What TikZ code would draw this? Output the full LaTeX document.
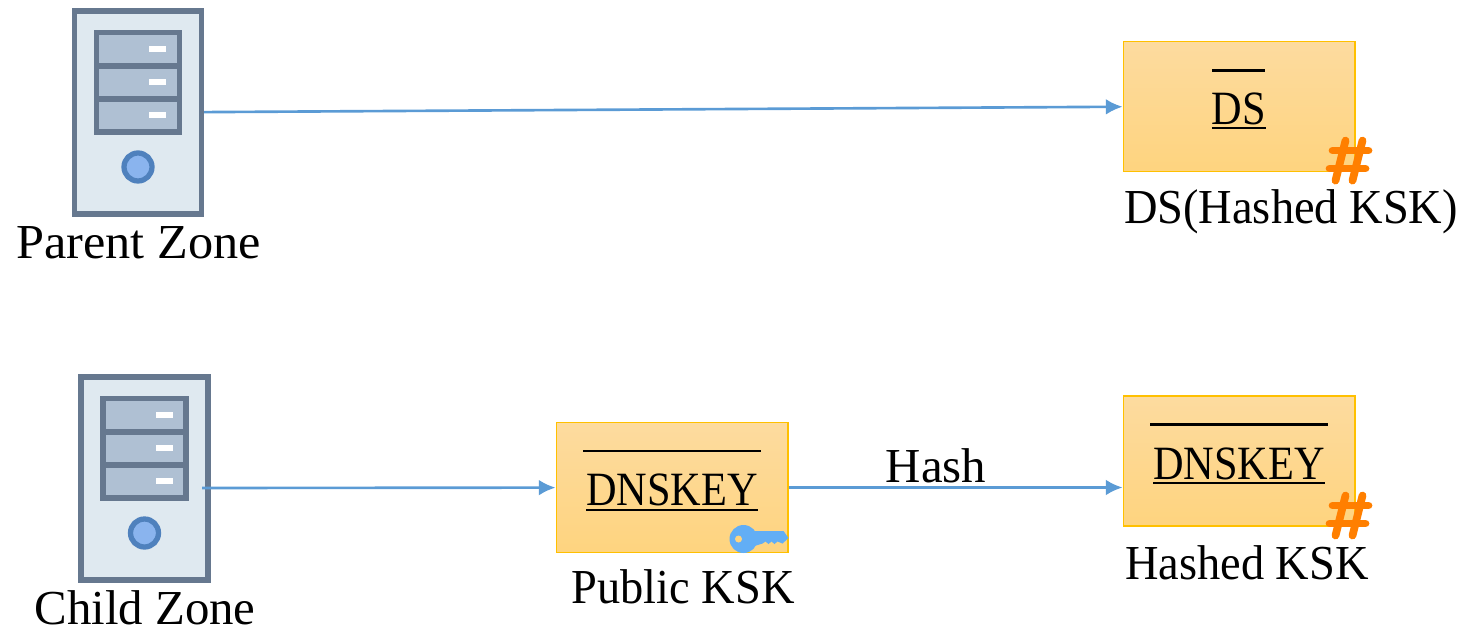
\documentclass[tikz,border=0pt]{standalone}
\usepackage{fontspec}
\setmainfont{Liberation Serif}
\newfontfamily\boxfont[FakeStretch=0.885]{Liberation Serif}
\newfontfamily\kskfont[FakeStretch=0.95]{Liberation Serif}
\newfontfamily\zonefont[FakeStretch=1.03]{Liberation Serif}
\usetikzlibrary{arrows.meta,calc,positioning}
\definecolor{srvline}{HTML}{66788F}
\definecolor{srvfill}{HTML}{DFE9F0}
\definecolor{srvrack}{HTML}{AFC0D3}
\definecolor{srvlamp}{HTML}{8AB4EE}
\definecolor{srvring}{HTML}{4F81BD}
\definecolor{flow}{HTML}{5B9BD5}
\definecolor{boxtop}{HTML}{FDDB9F}
\definecolor{boxbot}{HTML}{FED47F}
\definecolor{boxline}{HTML}{FFC000}
\definecolor{hashcol}{HTML}{FF7F00}
\definecolor{keycol}{HTML}{62AEF5}
\newcommand{\rrname}[1]{\setbox0\hbox{#1}\rlap{\rule[-2.7pt]{\wd0}{1.2pt}}\box0}
\tikzstyle{server} = [draw=srvline, fill=srvfill, line width=3pt, minimum width=2.54cm,
    minimum height=4.06cm, inner sep=0pt]
\tikzstyle{rrbox} = [draw=boxline, top color=boxtop, bottom color=boxbot, line width=0.6pt,
    minimum width=4.64cm, minimum height=2.6cm, inner sep=0pt, text height=.82cm, text depth=.08cm,
    font=\fontsize{27.2}{33}\boxfont]
\tikzstyle{caption} = [anchor=base, inner sep=0pt, font=\fontsize{27.8}{33}\selectfont]
\tikzstyle{kskcaption} = [caption, font=\fontsize{27.8}{33}\kskfont]
\tikzstyle{zonecaption} = [caption, font=\fontsize{27.8}{33}\zonefont]
\tikzstyle{link} = [-{Latex[length=9.5pt,width=9pt]}, flow, line width=1.5pt]
\tikzstyle{blank} = [black, line width=1.2pt]
\tikzset{
  rack/.pic={
    \draw [srvline, fill=srvrack, line width=3pt] (-41.5,-80) rectangle (41.5,19.5);
    \draw [srvline, line width=3pt] (-41.5,-46.5) -- (41.5,-46.5);
    \draw [srvline, line width=3pt] (-41.5,-13.5) -- (41.5,-13.5);
    \foreach \y in {-66.5,-33.5,-0.5}
      \fill [white] (11,\y) rectangle (28,\y+6);
    \draw [srvring, fill=srvlamp, line width=3pt] (0,54.5) circle (14);
  },
  hash/.pic={
    \draw [hashcol, line width=4.4pt, line cap=round] (-10,-31) -- (-20,9);
    \draw [hashcol, line width=4.4pt, line cap=round] (7,-31) -- (-3,9);
    \draw [hashcol, line width=4.4pt, line cap=round] (-23,-21) -- (13,-21);
    \draw [hashcol, line width=4.4pt, line cap=round] (-26,-3) -- (10,-3);
  },
  pubkey/.pic={
    \fill [keycol] (-45,-14) circle (14);
    \fill [keycol] (-34,-22) -- (-5,-22) -- (0,-15) -- (-6,-9.5) -- (-11,-11.5) -- (-14,-9)
      -- (-17,-11.5) -- (-20,-9) -- (-23,-11.5) -- (-26,-9.5) -- (-34,-7) -- cycle;
    \fill [boxbot] (-50,-14) circle (3.5);
  }
}
\begin{document}
\begin{tikzpicture}[x=0.02cm, y=-0.02cm]
  \useasboundingbox (0,0) rectangle (1463,631);
  \node [server] (prt) at (138,112.5) {};
  \pic at (prt) {rack};
  \node [server] (chd) at (144.5,478.5) {};
  \pic at (chd) {rack};
  \node [rrbox] (dk1) at (672,487.5) {\rrname{DNSKEY}};
  \node [rrbox] (dk2) at (1239,461) {\rrname{DNSKEY}};
  \node [rrbox, above of=dk2, node distance=7.1cm] (ds) {\rrname{DS}};
  \draw [blank] ($(ds.north)+(-27,30)$) -- ++(53,0);
  \draw [blank] ($(dk1.north)+(-89,29)$) -- ++(178,0);
  \draw [blank] ($(dk2.north)+(-89,29)$) -- ++(178,0);
  \pic at (ds.south east) {hash};
  \pic at (dk2.south east) {hash};
  \pic at (dk1.south east) {pubkey};
  \node [zonecaption] (lprt) at (138.5,259) {Parent Zone};
  \node [caption] (lchd) at (145,624) {Child Zone};
  \node [kskcaption] (lds) at (1291,224) {DS(Hashed KSK)};
  \node [kskcaption] (lpub) at (683,603) {Public KSK};
  \node [kskcaption] (lhsh) at (1247,579) {Hashed KSK};
  \node [caption] (lhash) at (936,482) {Hash};
  \coordinate (chdout) at (202,488);
  \draw [link] (prt) -- (ds);
  \draw [link] (chdout) -- (dk1);
  \draw [link] (dk1) -- (dk1 -| dk2.west);
\end{tikzpicture}
\end{document}
